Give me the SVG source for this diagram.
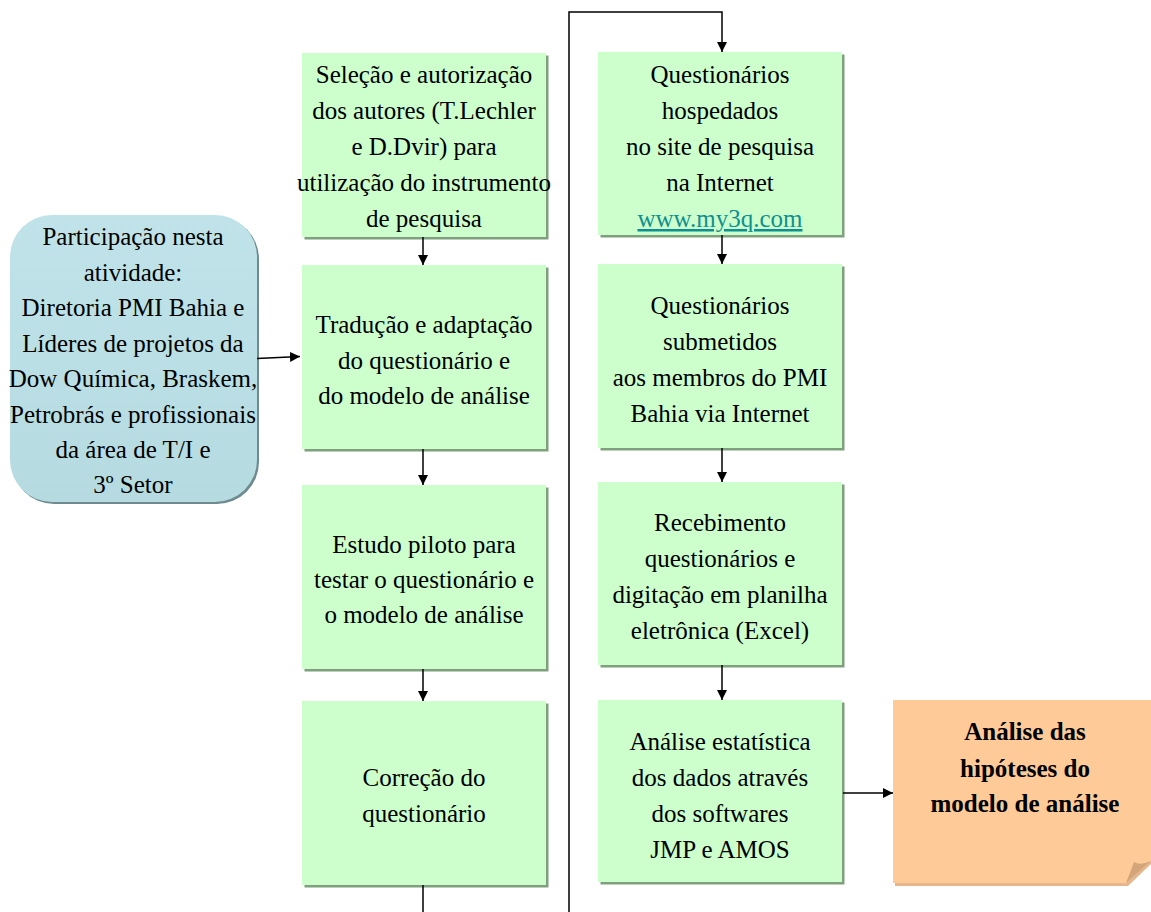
<svg xmlns="http://www.w3.org/2000/svg" width="1151" height="912" viewBox="0 0 1151 912">
  <defs>
    <marker id="arrow" viewBox="0 0 10 10" refX="10" refY="5" markerWidth="10" markerHeight="10" markerUnits="userSpaceOnUse" orient="auto">
      <path d="M0,0 L10,5 L0,10 z" fill="#000"/>
    </marker>
    <linearGradient id="blueFill" x1="0" y1="0" x2="0" y2="1">
      <stop offset="0" stop-color="#bfe3e8"/>
      <stop offset="1" stop-color="#b5dbe0"/>
    </linearGradient>
  </defs>
  <style>
    .box { fill: #ccffcc; }
    .shadow { fill: #7f9f7f; }
    .txt { font-family: "Liberation Serif", "Times New Roman", serif; font-size: 25px; fill: #000; text-anchor: middle; }
    .bold { font-weight: bold; }
    .link { fill: #0f9090; text-decoration: underline; }
    .conn { fill: none; stroke: #000; stroke-width: 1.5; }
  </style>

  <rect width="1151" height="912" fill="#ffffff"/>

  <!-- participants -->
  <g id="participantes">
    <rect x="12" y="217" width="247" height="287" rx="42" fill="#6f8b8f"/>
    <rect x="10" y="215" width="247" height="287" rx="42" fill="url(#blueFill)"/>
    <text class="txt" x="133" y="245">Participação nesta</text>
    <text class="txt" x="133" y="281">atividade:</text>
    <text class="txt" x="133" y="316">Diretoria PMI Bahia e</text>
    <text class="txt" x="133" y="352">Líderes de projetos da</text>
    <text class="txt" x="133" y="387">Dow Química, Braskem,</text>
    <text class="txt" x="133" y="423">Petrobrás e profissionais</text>
    <text class="txt" x="133" y="458">da área de T/I e</text>
    <text class="txt" x="133" y="493">3º Setor</text>
  </g>

  <!-- left column -->
  <g id="selecao">
    <rect class="shadow" x="304.5" y="55.5" width="244" height="184"/>
    <rect class="box" x="302" y="53" width="244" height="184"/>
    <text class="txt" x="424" y="83">Seleção e autorização</text>
    <text class="txt" x="424" y="119">dos autores (T.Lechler</text>
    <text class="txt" x="424" y="155">e D.Dvir) para</text>
    <text class="txt" x="424" y="191">utilização do instrumento</text>
    <text class="txt" x="424" y="227">de pesquisa</text>
  </g>

  <g id="traducao">
    <rect class="shadow" x="304.5" y="267.5" width="244" height="184"/>
    <rect class="box" x="302" y="265" width="244" height="184"/>
    <text class="txt" x="424" y="333">Tradução e adaptação</text>
    <text class="txt" x="424" y="369">do questionário e</text>
    <text class="txt" x="424" y="404">do modelo de análise</text>
  </g>

  <g id="piloto">
    <rect class="shadow" x="304.5" y="487.5" width="244" height="184"/>
    <rect class="box" x="302" y="485" width="244" height="184"/>
    <text class="txt" x="424" y="553">Estudo piloto para</text>
    <text class="txt" x="424" y="588">testar o questionário e</text>
    <text class="txt" x="424" y="623">o modelo de análise</text>
  </g>

  <g id="correcao">
    <rect class="shadow" x="304.5" y="703.5" width="244" height="184"/>
    <rect class="box" x="302" y="701" width="244" height="184"/>
    <text class="txt" x="424" y="786">Correção do</text>
    <text class="txt" x="424" y="822">questionário</text>
  </g>

  <!-- right column -->
  <g id="hospedados">
    <rect class="shadow" x="600.5" y="54.5" width="244" height="183"/>
    <rect class="box" x="598" y="52" width="244" height="183"/>
    <text class="txt" x="720" y="83">Questionários</text>
    <text class="txt" x="720" y="119">hospedados</text>
    <text class="txt" x="720" y="155">no site de pesquisa</text>
    <text class="txt" x="720" y="191">na Internet</text>
    <text class="txt link" x="720" y="227">www.my3q.com</text>
  </g>

  <g id="submetidos">
    <rect class="shadow" x="600.5" y="266.5" width="244" height="184"/>
    <rect class="box" x="598" y="264" width="244" height="184"/>
    <text class="txt" x="720" y="314">Questionários</text>
    <text class="txt" x="720" y="350">submetidos</text>
    <text class="txt" x="720" y="386">aos membros do PMI</text>
    <text class="txt" x="720" y="422">Bahia via Internet</text>
  </g>

  <g id="recebimento">
    <rect class="shadow" x="600.5" y="484.5" width="244" height="183"/>
    <rect class="box" x="598" y="482" width="244" height="183"/>
    <text class="txt" x="720" y="531">Recebimento</text>
    <text class="txt" x="720" y="567">questionários e</text>
    <text class="txt" x="720" y="603">digitação em planilha</text>
    <text class="txt" x="720" y="639">eletrônica (Excel)</text>
  </g>

  <g id="estatistica">
    <rect class="shadow" x="600.5" y="702.5" width="244" height="182"/>
    <rect class="box" x="598" y="700" width="244" height="182"/>
    <text class="txt" x="720" y="750">Análise estatística</text>
    <text class="txt" x="720" y="786">dos dados através</text>
    <text class="txt" x="720" y="822">dos softwares</text>
    <text class="txt" x="720" y="858">JMP e AMOS</text>
  </g>

  <!-- result note with folded corner -->
  <g id="hipoteses">
    <path d="M895,702 H1151 V864 L1128,886 H895 Z" fill="#e6b78e"/>
    <path d="M893,700 H1151 V861 L1126,883 H893 Z" fill="#fecb98"/>
    <path d="M1126,883 Q1131,870 1134,862 Q1140,866 1151,861 Z" fill="#d3a679"/>
    <text class="txt bold" x="1025" y="740">Análise das</text>
    <text class="txt bold" x="1025" y="777">hipóteses do</text>
    <text class="txt bold" x="1025" y="812">modelo de análise</text>
  </g>

  <!-- connectors -->
  <g id="connectors">
    <path class="conn" d="M257,358.5 L300,356.5" marker-end="url(#arrow)"/>
    <path class="conn" d="M423,237 V265" marker-end="url(#arrow)"/>
    <path class="conn" d="M423,449 V485" marker-end="url(#arrow)"/>
    <path class="conn" d="M423,669 V701" marker-end="url(#arrow)"/>
    <path class="conn" d="M423,885 V912 M569,912 V12 H722 V52" marker-end="url(#arrow)"/>
    <path class="conn" d="M722,235 V264" marker-end="url(#arrow)"/>
    <path class="conn" d="M722,448 V482" marker-end="url(#arrow)"/>
    <path class="conn" d="M722,665 V700" marker-end="url(#arrow)"/>
    <path class="conn" d="M843,793 H893" marker-end="url(#arrow)"/>
  </g>
</svg>
